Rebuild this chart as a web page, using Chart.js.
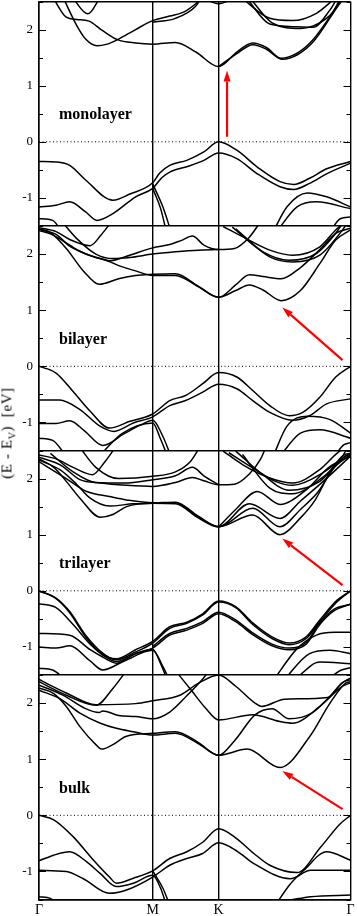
<!DOCTYPE html>
<html>
<head>
<meta charset="utf-8">
<script src="https://cdn.jsdelivr.net/npm/chart.js@4.4.1/dist/chart.umd.min.js"></script>
<style>
  html, body { margin: 0; padding: 0; background: #fff; }
  #wrap { position: relative; width: 357px; height: 916px; }
  #c { position: absolute; left: 0; top: 0; }
  #ytitle {
    position: absolute; left: 8px; top: 433px;
    transform: translate(-50%, -50%) rotate(-90deg);
    font: 15px "Liberation Serif", serif; white-space: nowrap; letter-spacing: 0.6px;
  }
  #ytitle sub { font-size: 10px; }
</style>
</head>
<body>
<div id="wrap">
  <canvas id="c" width="357" height="916"></canvas>
  <div id="ytitle">(E - E<sub>V</sub>)&nbsp;&nbsp;[eV]</div>
</div>
<script>
// k-path: Γ=0, M=1, K=1.58, Γ=2.74
const K_POS = [0, 1, 1.58, 2.74];
const K_LABELS = ['Γ', 'M', 'K', 'Γ'];

const PANEL_NAMES = ['monolayer', 'bilayer', 'trilayer', 'bulk'];
const PANEL_SHIFT = [0, -4, -8, -12]; // each panel shows -1.5 .. 2.5 eV
const NAME_POS = [0.176, 0.48];

// red arrows (start, tip) in panel coordinates
const ARROW_FROM = [[1.654, 0.09], [2.67, 0.11], [2.67, 0.1], [2.67, 0.11]];
const ARROW_TO = [[1.654, 1.27], [2.14, 1.05], [2.14, 0.93], [2.14, 0.79]];

// bands: [k, E] pairs
const monoBands = [
  [[0.12,2.58],[0.24,2.22],[0.33,2.18],[0.44,2.15],[0.56,1.98],[0.69,1.82],[0.85,1.76],[1.0,1.74],[1.2,1.77],[1.38,1.6],[1.58,1.34],[1.74,1.6],[1.88,1.76],[2.0,1.68],[2.13,1.49],[2.27,1.58],[2.41,1.82],[2.62,2.41],[2.68,2.58]],
  [[1.58,1.34],[1.74,1.57],[1.88,1.73],[2.0,1.65],[2.14,1.47],[2.28,1.56],[2.42,1.8],[2.63,2.42],[2.69,2.58]],
  [[0.21,2.58],[0.33,2.08],[0.41,1.83],[0.51,1.71],[0.6,1.74],[0.69,1.82],[0.85,2.0],[1.0,2.16],[1.15,2.24],[1.29,2.33],[1.45,2.58]],
  [[1.0,2.13],[1.2,2.2],[1.38,2.42],[1.43,2.58]],
  [[0.29,2.58],[0.43,2.28],[0.54,2.58]],
  [[1.44,2.56],[1.58,2.46],[1.72,2.56]],
  [[1.79,2.55],[2.03,2.2],[2.23,2.16],[2.44,2.29],[2.6,2.55]],
  [[1.83,2.55],[2.03,2.1],[2.27,2.05],[2.41,2.04],[2.56,2.35],[2.62,2.55]],
  [[1.86,2.55],[2.05,2.12],[2.3,2.02],[2.45,2.1],[2.58,2.3],[2.65,2.55]],
  [[0,-0.35],[0.15,-0.36],[0.27,-0.42],[0.41,-0.68],[0.65,-1.04],[0.8,-0.93],[1.0,-0.73],[1.06,-0.56],[1.15,-0.42],[1.3,-0.33],[1.45,-0.18],[1.58,0],[1.74,-0.15],[1.92,-0.45],[2.12,-0.71],[2.24,-0.76],[2.38,-0.65],[2.53,-0.48],[2.74,-0.35]],
  [[0,-1.16],[0.15,-1.13],[0.27,-1.07],[0.41,-1.25],[0.51,-1.4],[0.65,-1.28],[0.85,-0.98],[1.0,-0.83],[1.08,-0.64],[1.15,-0.54],[1.32,-0.43],[1.45,-0.33],[1.58,-0.2],[1.74,-0.3],[1.92,-0.57],[2.12,-0.8],[2.24,-0.85],[2.38,-0.74],[2.53,-0.57],[2.74,-0.38]],
  [[0,-1.37],[0.12,-1.4],[0.2,-1.6]],
  [[1.0,-0.75],[1.09,-1.16],[1.13,-1.4],[1.16,-1.6]],
  [[1.0,-0.83],[1.07,-1.19],[1.12,-1.6]],
  [[2.06,-1.6],[2.18,-1.16],[2.36,-0.91],[2.53,-0.98],[2.74,-1.16]],
  [[2.09,-1.6],[2.27,-1.16],[2.44,-1.07],[2.74,-1.19]],
  [[2.56,-1.6],[2.65,-1.37],[2.74,-1.34]]
];

const biBands = [
  [[0,2.45],[0.1,2.38],[0.24,2.1],[0.39,1.7],[0.53,1.46],[0.7,1.56],[0.85,1.62],[1.0,1.64],[1.2,1.65],[1.4,1.43],[1.58,1.23],[1.73,1.35],[1.85,1.45],[1.97,1.36],[2.13,1.17],[2.3,1.35],[2.47,1.83],[2.61,2.25],[2.74,2.43]],
  [[0,2.42],[0.1,2.36],[0.24,2.2],[0.36,2.05],[0.48,1.95],[0.6,1.88],[0.72,1.78],[0.85,1.7],[1.0,1.62],[1.2,1.62],[1.4,1.42],[1.58,1.23],[1.73,1.45],[1.85,1.63],[1.97,1.6],[2.13,1.56],[2.3,1.76],[2.47,2.08],[2.62,2.38],[2.74,2.46]],
  [[0,2.44],[0.15,2.35],[0.27,2.14],[0.39,2.02],[0.54,1.92],[0.62,1.88],[0.77,1.96],[1.0,2.11],[1.15,2.17],[1.25,2.24],[1.35,2.32],[1.45,2.16],[1.58,2.08],[1.72,2.1],[1.85,2.3],[1.95,2.58]],
  [[0.2,2.58],[0.33,2.28],[0.5,2.0],[0.65,1.92],[0.8,1.94],[1.0,2.0],[1.2,2.04],[1.4,2.07],[1.58,2.08]],
  [[0,2.47],[0.15,2.4],[0.27,2.26],[0.45,2.15],[0.55,2.35],[0.64,2.58]],
  [[1.62,2.49],[1.79,2.31],[2.03,2.07],[2.23,1.98],[2.47,2.13],[2.61,2.43],[2.7,2.58]],
  [[1.7,2.48],[1.97,2.04],[2.2,1.89],[2.44,2.01],[2.61,2.37],[2.68,2.58]],
  [[1.73,2.45],[2.03,1.95],[2.23,1.86],[2.47,1.98],[2.67,2.43],[2.72,2.58]],
  [[0,0],[0.15,-0.12],[0.3,-0.45],[0.45,-0.8],[0.62,-1.1],[0.8,-0.98],[1.0,-0.85],[1.15,-0.61],[1.29,-0.52],[1.44,-0.31],[1.58,-0.11],[1.74,-0.19],[1.88,-0.43],[2.03,-0.7],[2.2,-0.88],[2.32,-0.82],[2.47,-0.55],[2.61,-0.19],[2.74,0]],
  [[0,-0.6],[0.18,-0.6],[0.36,-0.77],[0.54,-1.07],[0.66,-1.16],[0.83,-1.01],[1.0,-0.9],[1.15,-0.7],[1.29,-0.61],[1.44,-0.46],[1.58,-0.32],[1.74,-0.4],[1.88,-0.61],[2.03,-0.82],[2.23,-0.96],[2.38,-0.88],[2.53,-0.67],[2.74,-0.58]],
  [[0,-1.02],[0.15,-1.02],[0.27,-0.97],[0.4,-1.15],[0.56,-1.41],[0.75,-1.2],[0.9,-1.04],[1.0,-0.96],[1.09,-1.25],[1.16,-1.6]],
  [[0,-1.28],[0.12,-1.32],[0.24,-1.6]],
  [[0.53,-1.6],[0.73,-1.2],[1.0,-1.01],[1.07,-1.3],[1.13,-1.6]],
  [[2.06,-1.6],[2.18,-1.07],[2.36,-0.89],[2.56,-0.95],[2.74,-1.19]],
  [[2.12,-1.6],[2.3,-1.19],[2.47,-1.13],[2.74,-1.28]],
  [[2.6,-1.6],[2.68,-1.4],[2.74,-1.36]]
];

const triBands = [
  [[0,2.35],[0.13,2.2],[0.24,1.95],[0.36,1.65],[0.54,1.31],[0.65,1.36],[0.77,1.5],[1.0,1.56],[1.2,1.55],[1.4,1.3],[1.58,1.14],[1.88,1.35],[2.12,1.0],[2.3,1.3],[2.43,1.62],[2.57,2.15],[2.68,2.42],[2.74,2.45]],
  [[0,2.33],[0.19,2.15],[0.33,1.9],[0.45,1.65],[0.62,1.51],[0.83,1.55],[1.0,1.56],[1.2,1.57],[1.4,1.32],[1.58,1.14],[1.88,1.47],[2.12,1.14],[2.3,1.45],[2.45,1.75],[2.6,2.2],[2.74,2.43]],
  [[0,2.3],[0.24,2.0],[0.42,1.77],[0.62,1.68],[0.77,1.62],[1.0,1.57],[1.2,1.58],[1.4,1.33],[1.58,1.14],[1.85,1.55],[2.12,1.29],[2.3,1.6],[2.5,1.95],[2.74,2.4]],
  [[0,2.38],[0.19,2.24],[0.36,1.98],[0.54,1.92],[0.77,1.88],[1.0,1.86],[1.2,1.93],[1.35,2.02],[1.45,1.96],[1.58,1.89],[1.72,1.9],[1.85,2.08],[1.95,2.35],[2.0,2.58]],
  [[0.1,2.45],[0.3,2.12],[0.5,1.93],[0.75,1.92],[1.0,1.98],[1.2,2.05],[1.35,2.2],[1.45,2.05],[1.58,1.89]],
  [[0,2.42],[0.15,2.35],[0.3,2.2],[0.47,2.07],[0.58,2.3],[0.68,2.58]],
  [[0.35,2.58],[0.5,2.2],[0.7,2.0],[1.0,2.04],[1.2,2.12],[1.33,2.3],[1.42,2.58]],
  [[1.58,1.14],[1.73,1.45],[1.92,1.77],[2.12,1.54],[2.35,1.8],[2.55,2.2],[2.74,2.4]],
  [[1.62,2.49],[1.79,2.25],[2.03,2.01],[2.23,1.92],[2.47,2.16],[2.61,2.43],[2.7,2.58]],
  [[1.67,2.46],[1.88,2.19],[2.08,1.95],[2.23,1.88],[2.47,2.07],[2.67,2.4],[2.72,2.58]],
  [[1.73,2.49],[1.97,2.07],[2.2,1.79],[2.47,1.95],[2.69,2.4],[2.74,2.45]],
  [[1.79,2.43],[2.03,1.83],[2.23,1.73],[2.5,2.03],[2.7,2.4],[2.74,2.42]],
  [[0,0],[0.15,-0.13],[0.27,-0.37],[0.41,-0.79],[0.56,-1.11],[0.68,-1.23],[0.85,-1.09],[1.0,-0.93],[1.15,-0.67],[1.3,-0.58],[1.44,-0.43],[1.58,-0.2],[1.73,-0.3],[1.88,-0.6],[2.05,-0.85],[2.2,-0.96],[2.35,-0.85],[2.47,-0.55],[2.62,-0.2],[2.74,0]],
  [[0,0],[0.15,-0.14],[0.27,-0.39],[0.41,-0.82],[0.56,-1.14],[0.68,-1.21],[0.85,-1.05],[1.0,-0.9],[1.15,-0.64],[1.3,-0.56],[1.44,-0.41],[1.58,-0.18],[1.73,-0.28],[1.88,-0.57],[2.05,-0.82],[2.2,-0.93],[2.35,-0.82],[2.47,-0.52],[2.62,-0.17],[2.74,0]],
  [[0,-0.23],[0.15,-0.3],[0.3,-0.6],[0.45,-0.95],[0.56,-1.14],[0.68,-1.26],[0.85,-1.12],[1.0,-1.02],[1.15,-0.79],[1.3,-0.7],[1.44,-0.58],[1.58,-0.41],[1.73,-0.55],[1.88,-0.78],[2.05,-0.98],[2.2,-1.05],[2.35,-0.95],[2.47,-0.6],[2.6,-0.35],[2.74,-0.24]],
  [[1.0,-0.99],[1.15,-0.76],[1.3,-0.67],[1.44,-0.55],[1.58,-0.38],[1.73,-0.52],[1.88,-0.75],[2.05,-0.95],[2.2,-1.02],[2.35,-0.92],[2.47,-0.57],[2.6,-0.32],[2.74,-0.24]],
  [[0,-0.76],[0.27,-0.79],[0.45,-1.05],[0.56,-1.18],[0.68,-1.29],[0.85,-1.12],[1.0,-1.04],[1.07,-1.3],[1.13,-1.6]],
  [[0,-1.0],[0.15,-1.02],[0.27,-0.98],[0.45,-1.25],[0.56,-1.41],[0.75,-1.25],[1.0,-1.06],[1.09,-1.35],[1.15,-1.6]],
  [[0,-1.38],[0.12,-1.41],[0.24,-1.6]],
  [[2.06,-1.6],[2.27,-1.03],[2.44,-0.79],[2.6,-0.74],[2.74,-0.74]],
  [[2.15,-1.6],[2.38,-1.12],[2.56,-1.06],[2.74,-1.12]],
  [[2.24,-1.6],[2.47,-1.27],[2.74,-1.3]],
  [[2.53,-1.6],[2.65,-1.42],[2.74,-1.37]]
];

const bulkBands = [
  [[0,2.27],[0.13,2.17],[0.24,1.94],[0.36,1.58],[0.5,1.26],[0.55,1.18],[0.65,1.26],[0.77,1.41],[1.0,1.46],[1.2,1.49],[1.4,1.3],[1.58,1.07],[1.83,1.18],[2.12,0.85],[2.38,1.4],[2.56,2.0],[2.7,2.36],[2.74,2.38]],
  [[0,2.23],[0.19,2.07],[0.36,1.82],[0.54,1.64],[0.68,1.55],[0.83,1.49],[1.0,1.43],[1.2,1.46],[1.4,1.28],[1.58,1.07],[1.72,1.33],[1.9,1.79],[2.05,1.9],[2.2,1.72],[2.4,1.82],[2.55,2.1],[2.7,2.4],[2.74,2.41]],
  [[0,2.32],[0.21,2.14],[0.41,1.9],[0.53,1.83],[0.56,1.86],[0.7,1.78],[0.85,1.76],[1.0,1.72],[1.15,1.84],[1.3,2.13],[1.44,2.43],[1.5,2.58]],
  [[0,2.38],[0.24,2.14],[0.5,1.96],[0.65,2.26],[0.77,2.58]],
  [[0,2.42],[0.24,2.18],[0.5,1.97],[0.85,1.99],[1.0,2.04],[1.24,2.14],[1.4,2.35],[1.58,2.5],[1.73,2.3],[1.9,2.0],[1.96,1.94],[2.16,2.07],[2.54,2.1],[2.66,2.35],[2.74,2.45]],
  [[1.2,2.58],[1.35,2.2],[1.47,1.9],[1.58,1.7],[1.88,1.79],[2.12,1.67],[2.23,1.64],[2.47,1.94],[2.67,2.3],[2.74,2.36]],
  [[0,0],[0.13,-0.08],[0.3,-0.38],[0.48,-0.8],[0.62,-1.1],[0.68,-1.21],[0.83,-1.12],[1.0,-0.99],[1.15,-0.77],[1.3,-0.65],[1.44,-0.48],[1.58,-0.24],[1.73,-0.4],[1.89,-0.68],[2.03,-0.89],[2.27,-1.02],[2.48,-0.56],[2.65,-0.15],[2.74,0]],
  [[0,-0.98],[0.24,-1.0],[0.39,-1.13],[0.62,-1.39],[0.77,-1.33],[1.0,-1.1],[1.15,-0.89],[1.3,-0.77],[1.44,-0.68],[1.58,-0.49],[1.75,-0.65],[1.89,-0.86],[2.21,-1.13],[2.39,-0.98],[2.55,-0.98],[2.74,-0.98]],
  [[0,-0.81],[0.13,-0.71],[0.27,-0.65],[0.42,-0.83],[0.54,-1.04],[0.68,-1.27],[0.83,-1.21],[1.0,-1.07],[1.07,-1.3],[1.12,-1.6]],
  [[0,-1.45],[0.1,-1.48],[0.18,-1.6]],
  [[1.0,-0.99],[1.09,-1.3],[1.15,-1.6]],
  [[2.08,-1.6],[2.2,-1.25],[2.33,-0.98],[2.53,-0.65],[2.74,-0.8]],
  [[2.21,-1.51],[2.39,-1.45],[2.74,-1.42]]
];

const Y_MIN = -13.5, Y_MAX = 2.5;
const PH = 224.5; // pixel height of one panel

function localValue(v) {
  return ((((v + 1.5) % 4) + 4) % 4) - 1.5;
}
function isWhole(v) {
  return Math.abs(v - Math.round(v)) < 1e-6;
}
function isBoundary(v) {
  return isWhole((v - Y_MAX) / 4);
}

const datasets = [];
[monoBands, biBands, triBands, bulkBands].forEach((bands, p) => {
  const clip = {left: 0, right: 0, top: -p * PH, bottom: -(3 - p) * PH};
  bands.forEach(b => {
    datasets.push({
      data: b.map(pt => ({x: pt[0], y: pt[1] + PANEL_SHIFT[p]})),
      borderColor: '#000',
      borderWidth: 1.5,
      pointRadius: 0,
      cubicInterpolationMode: 'monotone',
      clip: clip
    });
  });
  // dotted zero line
  datasets.push({
    data: [{x: 0, y: PANEL_SHIFT[p]}, {x: 2.74, y: PANEL_SHIFT[p]}],
    borderColor: '#000',
    borderWidth: 1,
    borderDash: [1, 2.5],
    pointRadius: 0,
    clip: clip
  });
});

const decoPlugin = {
  id: 'deco',
  afterDatasetsDraw(chart) {
    const ctx = chart.ctx;
    const a = chart.chartArea;
    const xs = chart.scales.x, ys = chart.scales.y;
    ctx.save();

    // inward tick marks on left and right
    ctx.strokeStyle = '#000';
    ctx.lineWidth = 1.2;
    for (let t = Y_MIN; t <= Y_MAX + 1e-9; t += 0.5) {
      const py = Math.round(ys.getPixelForValue(t)) + 0.5;
      const len = isWhole(localValue(t)) ? 7 : 4;
      ctx.beginPath();
      ctx.moveTo(a.left, py); ctx.lineTo(a.left + len, py);
      ctx.moveTo(a.right, py); ctx.lineTo(a.right - len, py);
      ctx.stroke();
    }

    // panel names
    ctx.fillStyle = '#000';
    ctx.font = 'bold 16px "Liberation Serif", serif';
    ctx.textBaseline = 'middle';
    PANEL_NAMES.forEach((name, p) => {
      ctx.fillText(name, xs.getPixelForValue(NAME_POS[0]), ys.getPixelForValue(NAME_POS[1] + PANEL_SHIFT[p]));
    });

    // red arrows
    ctx.strokeStyle = '#ff0000';
    ctx.fillStyle = '#ff0000';
    ctx.lineWidth = 2.2;
    ARROW_FROM.forEach((f, p) => {
      const t = ARROW_TO[p];
      const x0 = xs.getPixelForValue(f[0]), y0 = ys.getPixelForValue(f[1] + PANEL_SHIFT[p]);
      const x1 = xs.getPixelForValue(t[0]), y1 = ys.getPixelForValue(t[1] + PANEL_SHIFT[p]);
      const ang = Math.atan2(y1 - y0, x1 - x0);
      const hl = 11, hw = 3.5;
      const bx = x1 - hl * Math.cos(ang), by = y1 - hl * Math.sin(ang);
      ctx.beginPath();
      ctx.moveTo(x0, y0);
      ctx.lineTo(bx, by);
      ctx.stroke();
      ctx.beginPath();
      ctx.moveTo(x1, y1);
      ctx.lineTo(bx + hw * Math.sin(ang), by - hw * Math.cos(ang));
      ctx.lineTo(bx - hw * Math.sin(ang), by + hw * Math.cos(ang));
      ctx.closePath();
      ctx.fill();
    });
    ctx.restore();
  }
};

Chart.defaults.font.family = '"Liberation Serif", "Times New Roman", serif';
Chart.defaults.color = '#000';

new Chart(document.getElementById('c'), {
  type: 'line',
  data: {datasets: datasets},
  options: {
    responsive: false,
    animation: false,
    events: [],
    layout: {padding: {top: 1.5, right: 6.5, left: 0, bottom: 0}},
    plugins: {legend: {display: false}, tooltip: {enabled: false}},
    scales: {
      x: {
        type: 'linear',
        min: 0,
        max: 2.74,
        afterBuildTicks: s => { s.ticks = K_POS.map(v => ({value: v})); },
        afterFit: s => { s.height = 16.5; s.paddingLeft = 0; s.paddingRight = 0; },
        ticks: {
          autoSkip: false,
          maxRotation: 0,
          padding: 2,
          font: {size: 14},
          callback: (v, i) => K_LABELS[i]
        },
        grid: {color: '#000', lineWidth: 1.4, drawTicks: false},
        border: {display: true, color: '#000', width: 1.5}
      },
      y: {
        type: 'linear',
        min: Y_MIN,
        max: Y_MAX,
        afterBuildTicks: s => {
          const t = [];
          for (let v = Y_MIN; v <= Y_MAX + 1e-9; v += 0.5) t.push({value: v});
          s.ticks = t;
        },
        afterFit: s => { s.width = 39; s.paddingTop = 0; s.paddingBottom = 0; },
        ticks: {
          autoSkip: false,
          padding: 6,
          font: {size: 13},
          callback: v => {
            const l = localValue(v);
            return isWhole(l) ? String(Math.round(l)) : '';
          }
        },
        grid: {
          drawTicks: false,
          color: c => isBoundary(c.tick.value) ? '#000' : 'rgba(0,0,0,0)',
          lineWidth: c => isBoundary(c.tick.value) ? 1.6 : 0
        },
        border: {display: true, color: '#000', width: 1.5}
      }
    }
  },
  plugins: [decoPlugin]
});
</script>
</body>
</html>
